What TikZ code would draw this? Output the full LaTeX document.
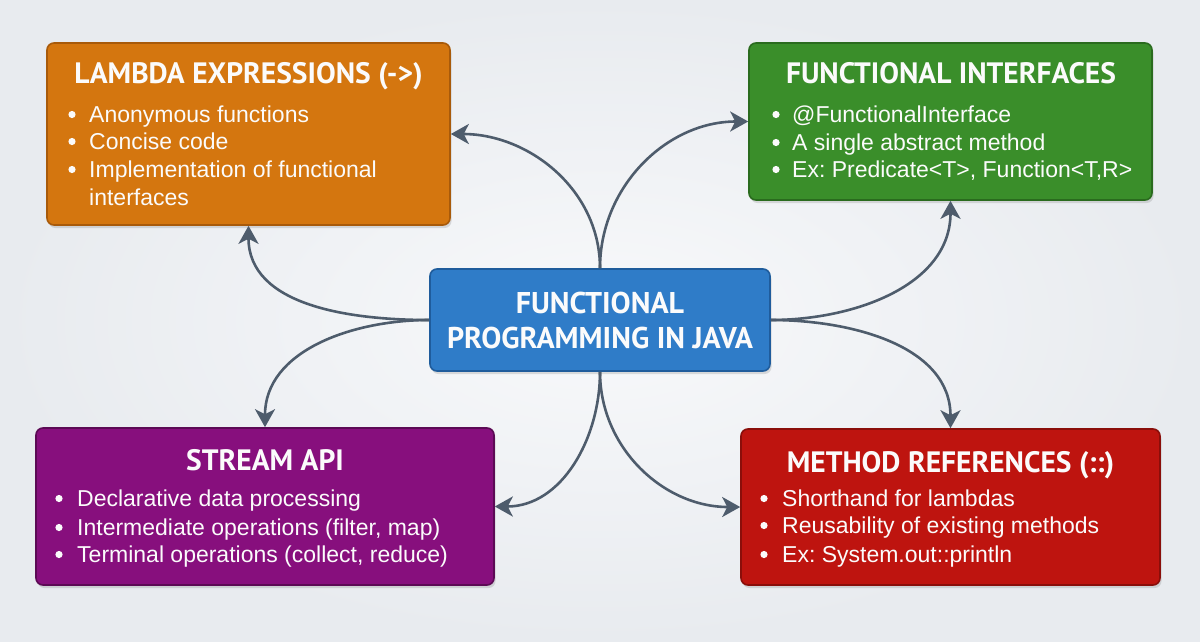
\documentclass[tikz,border=0pt]{standalone}
\usepackage{fontspec}
\usetikzlibrary{arrows.meta,shadows}
\newfontfamily\titlefont{PT Sans}
\newfontfamily\bodyfont{Liberation Sans}
\definecolor{bgIn}{HTML}{F8F9FB}
\definecolor{bgOut}{HTML}{E8EBEF}
\definecolor{lineC}{HTML}{4E5C6C}
\definecolor{orF}{HTML}{D4760F}\definecolor{orD}{HTML}{A85A0A}
\definecolor{grF}{HTML}{3A8E2A}\definecolor{grD}{HTML}{2A6B1E}
\definecolor{blF}{HTML}{2F7CC8}\definecolor{blD}{HTML}{1F5C9C}
\definecolor{puF}{HTML}{870F7D}\definecolor{puD}{HTML}{5C0A55}
\definecolor{reF}{HTML}{BE140F}\definecolor{reD}{HTML}{8A0E0A}
\definecolor{txt}{HTML}{FBFBFB}
\frenchspacing
\begin{document}
\begin{tikzpicture}[x=1pt,y=-1pt,
  box/.style={rounded corners=7pt, line width=1.6pt, inner sep=0pt,
    drop shadow={opacity=0.25,shadow xshift=1.5pt,shadow yshift=-3pt}},
  conn/.style={draw=lineC, line width=2.6pt, -{Stealth[length=18pt,width=20pt,inset=5pt]}},
  ttl/.style={text=txt, font=\titlefont\bfseries\fontsize{29.5}{31}\selectfont, anchor=base, inner sep=0pt},
  ctl/.style={text=txt, font=\titlefont\bfseries\fontsize{30}{32}\selectfont, anchor=base, inner sep=0pt},
  itm/.style={text=txt, font=\bodyfont\frenchspacing\fontsize{23}{26}\selectfont, anchor=base west, inner sep=0pt},
  dot/.style={fill=txt},
]
\useasboundingbox (0,0) rectangle (1200,641);
\shade[inner color=bgIn, outer color=bgOut] (0,0) rectangle (1200,641);

% boxes
\node[box, fill=orF, draw=orD, minimum width=403pt, minimum height=182pt] (lam) at (248.5,134) {};
\node[box, fill=grF, draw=grD, minimum width=403pt, minimum height=157pt] (fin) at (950.5,121.5) {};
\node[box, fill=blF, draw=blD, minimum width=340pt, minimum height=102pt] (c) at (600,320) {};
\node[box, fill=puF, draw=puD, minimum width=458pt, minimum height=157pt] (str) at (265,506.5) {};
\node[box, fill=reF, draw=reD, minimum width=419pt, minimum height=156pt] (mref) at (950.5,507) {};

% titles
\node[ttl] (lamT) at (248.5,83) {LAMBDA EXPRESSIONS (->)};
\node[ttl] (finT) at (951,83) {FUNCTIONAL INTERFACES};
\node[ctl] (cT1) at (600,313) {FUNCTIONAL};
\node[ctl] (cT2) at (600,348) {PROGRAMMING IN JAVA};
\node[ttl] (strT) at (265,470) {STREAM API};
\node[ttl] (mrefT) at (950.5,472) {METHOD REFERENCES (::)};

% items
\node[itm] (lam1) at (89,122) {Anonymous functions};
\node[itm] (lam2) at (89,149) {Concise code};
\node[itm] (lam3) at (89,177) {Implementation of functional};
\node[itm] (lam4) at (89,205) {interfaces};
\foreach \y in {122,149,177} \fill[dot] (72,\y-7.5) circle (3.6);

\node[itm] (fin1) at (792,122) {@FunctionalInterface};
\node[itm] (fin2) at (792,150) {A single abstract method};
\node[itm] (fin3) at (792,177) {Ex: Predicate<T>, Function<T,R>};
\foreach \y in {122,150,177} \fill[dot] (776,\y-7.5) circle (3.6);

\node[itm] (str1) at (77,506) {Declarative data processing};
\node[itm] (str2) at (77,535) {Intermediate operations (filter, map)};
\node[itm] (str3) at (77,562) {Terminal operations (collect, reduce)};
\foreach \y in {506,535,562} \fill[dot] (59,\y-7.5) circle (3.6);

\node[itm] (mref1) at (782,506) {Shorthand for lambdas};
\node[itm] (mref2) at (782,533) {Reusability of existing methods};
\node[itm] (mref3) at (782,562) {Ex: System.out::println};
\foreach \y in {506,533,562} \fill[dot] (764,\y-7.5) circle (3.6);

% connectors
\draw[conn] (c.north) to[out=90,in=0] (lam.east);
\draw[conn] (c.north) to[out=90,in=180] (fin.west);
\draw[conn] (c.west) to[out=180,in=-90] (lam.south);
\draw[conn] (c.west) to[out=180,in=90] (str.north);
\draw[conn] (c.east) to[out=0,in=-90] (fin.south);
\draw[conn] (c.east) to[out=0,in=90] (mref.north);
\draw[conn] (c.south) to[out=-90,in=0] (str.east);
\draw[conn] (c.south) to[out=-90,in=180] (mref.west);
\end{tikzpicture}
\end{document}
